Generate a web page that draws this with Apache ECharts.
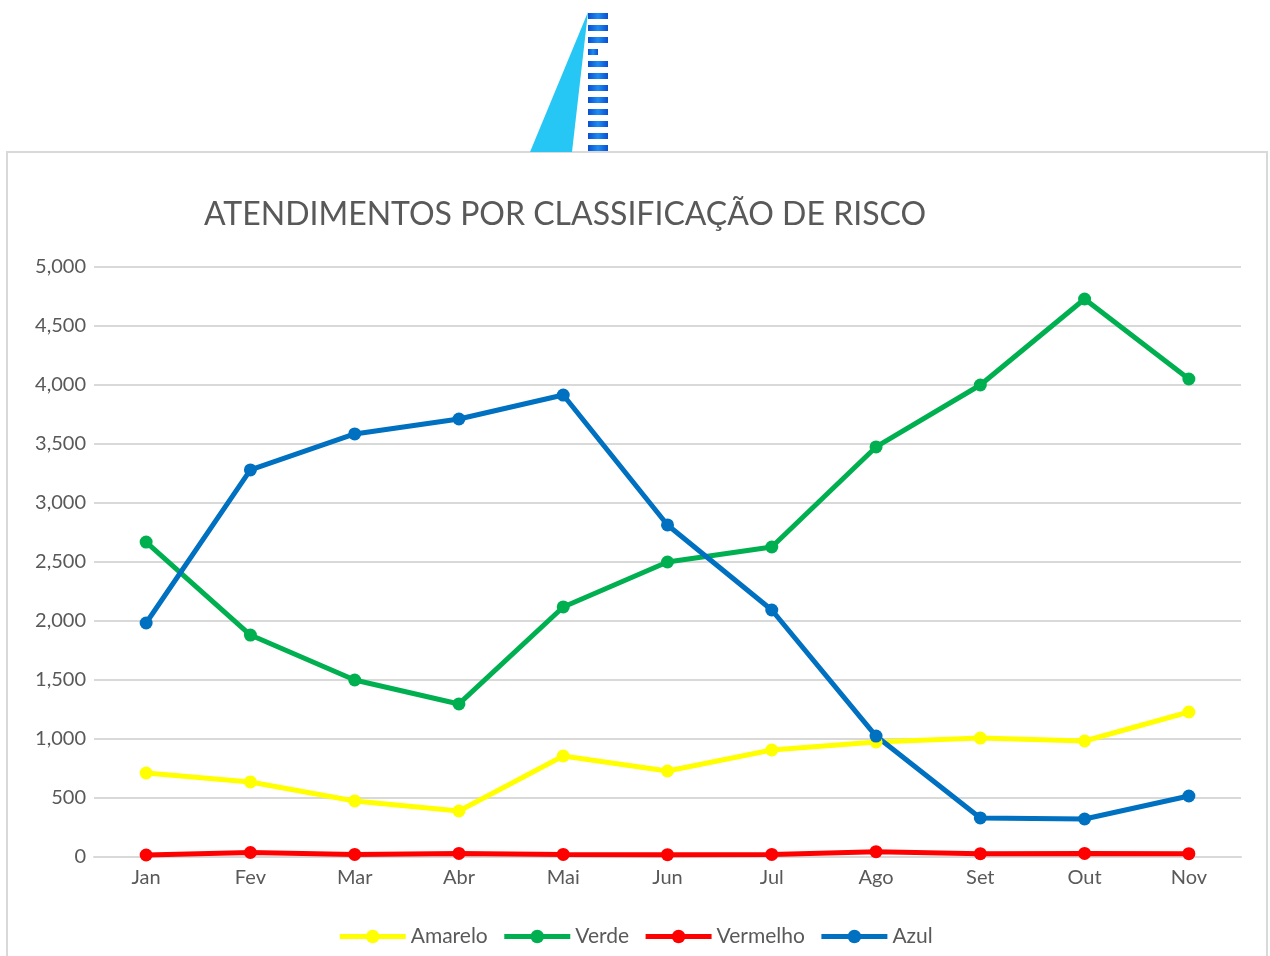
<!DOCTYPE html>
<html>
<head>
<meta charset="utf-8">
<script src="https://cdn.jsdelivr.net/npm/echarts@6/dist/echarts.min.js"></script>
<style>
  html, body { margin: 0; padding: 0; background: #fff; }
  #main { width: 1270px; height: 956px; }
</style>
</head>
<body>
<div id="main"></div>
<script>
// meses
var meses = ['Jan', 'Fev', 'Mar', 'Abr', 'Mai', 'Jun', 'Jul', 'Ago', 'Set', 'Out', 'Nov'];
// valores por classificação
var amarelo = [712, 636, 475, 390, 856, 729, 907, 975, 1008, 983, 1229];
var verde = [2669, 1881, 1500, 1297, 2119, 2500, 2627, 3475, 4000, 4729, 4051];
var vermelho = [17, 38, 22, 30, 22, 20, 22, 45, 28, 30, 28];
var azul = [1983, 3280, 3585, 3712, 3915, 2814, 2093, 1025, 331, 322, 517];

var fonte = 'Lato, "Open Sans", sans-serif';
var cinza = '#595959';

// logo recortado no topo (decoração)
var logo = [{
    type: 'polygon',
    shape: { points: [[588, 12], [530, 152], [572, 152]] },
    style: { fill: '#26c6f5' }
}];
for (var i = 0; i < 12; i++) {
    var w = (i === 3) ? 10 : 20;
    logo.push({
        type: 'rect',
        shape: { x: 588, y: 13 + i * 12, width: w, height: 6 },
        style: {
            fill: new echarts.graphic.LinearGradient(0, 0, 1, 0, [
                { offset: 0, color: '#0a4fd0' },
                { offset: 0.5, color: '#1e8cf0' },
                { offset: 1, color: '#0a4fd0' }
            ])
        }
    });
}
// moldura do gráfico
logo.push({
    type: 'rect',
    shape: { x: 7, y: 152, width: 1260, height: 820 },
    style: { fill: 'none', stroke: '#d9d9d9', lineWidth: 2 },
    z: -1
});

var myChart = echarts.init(document.getElementById('main'));

function serie(nome, cor, dados) {
    return {
        name: nome,
        type: 'line',
        data: dados,
        symbol: 'circle',
        symbolSize: 13,
        lineStyle: { color: cor, width: 5 },
        itemStyle: { color: cor },
        emphasis: { disabled: true }
    };
}

myChart.setOption({
    backgroundColor: '#fff',
    animation: false,
    graphic: logo,
    title: {
        text: 'ATENDIMENTOS POR CLASSIFICAÇÃO DE RISCO',
        left: 560,
        top: 194,
        textAlign: 'center',
        textStyle: { fontFamily: fonte, fontSize: 32, fontWeight: 'normal', color: cinza }
    },
    legend: {
        bottom: 4,
        left: 'center',
        itemWidth: 66,
        itemHeight: 17,
        itemGap: 14,
        lineStyle: { width: 5 },
        textStyle: { fontFamily: fonte, fontSize: 21, color: cinza },
        data: ['Amarelo', 'Verde', 'Vermelho', 'Azul']
    },
    grid: { left: 94, right: 29, top: 267, bottom: 99 },
    xAxis: {
        type: 'category',
        data: meses,
        boundaryGap: true,
        axisLine: { lineStyle: { color: '#d9d9d9', width: 2 } },
        axisTick: { show: false },
        axisLabel: { fontFamily: fonte, fontSize: 20, color: cinza, margin: 11 }
    },
    yAxis: {
        type: 'value',
        min: 0,
        max: 5000,
        interval: 500,
        axisLine: { show: false },
        axisTick: { show: false },
        splitLine: { lineStyle: { color: '#d9d9d9', width: 2 } },
        axisLabel: {
            fontFamily: fonte, fontSize: 20, color: cinza, margin: 8,
            formatter: function (v) { return v.toLocaleString('en-US'); }
        }
    },
    series: [
        serie('Amarelo', '#ffff00', amarelo),
        serie('Verde', '#00b050', verde),
        serie('Vermelho', '#ff0000', vermelho),
        serie('Azul', '#0070c0', azul)
    ]
});
</script>
</body>
</html>
